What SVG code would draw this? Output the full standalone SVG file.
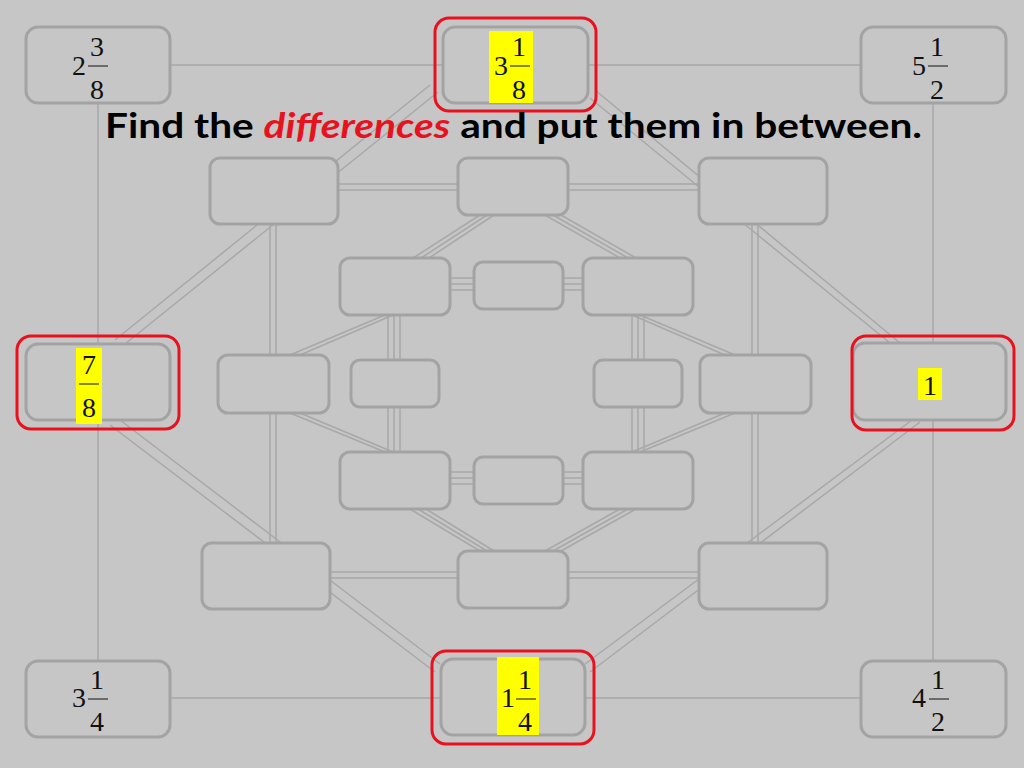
<svg xmlns="http://www.w3.org/2000/svg" width="1024" height="768" viewBox="0 0 1024 768">
<style>
.b{fill:#c6c6c6;stroke:#a3a3a3;stroke-width:3}
.l{fill:none;stroke:#a8a8a8;stroke-width:1.5}
.r{fill:none;stroke:#e8121e;stroke-width:3}
.f{font-family:"Liberation Serif",serif;font-size:28px;fill:#111}
.hl{fill:#ffff00}
</style>
<rect width="1024" height="768" fill="#c6c6c6"/>
<g id="connectors">
<path class="l" d="M170 65H443M588 65H861M98 103V344M98 420V661M933 103V343M933 420V661M170 698H441M585 698H861"/>
<path class="l" d="M430 85L115 340M438 92L125 344M110 425L435 672M120 420L440 664M590 672L920 422M585 664L912 420M595 90L900 343M590 98L890 343"/>
<path class="l" d="M338 184H458M338 190H458M568 184H699M568 190H699M270 224V355M276 224V355M752 224V355M758 224V355M270 413V543M276 413V543M752 413V543M758 413V543M330 572H458M330 578H458M568 572H699M568 578H699"/>
<path class="l" d="M410 260L480 215M418 260L487 215M426 260L494 215M620 258L545 215M628 258L553 215M636 258L561 215M620 509L545 551M628 509L553 551M636 509L561 551M410 509L480 551M418 509L487 551M426 509L494 551"/>
<path class="l" d="M385 315L290 355M393 315L300 355M640 315L735 355M632 315L725 355M385 452L290 413M393 452L300 413M640 452L735 413M632 452L725 413"/>
<path class="l" d="M450 278H474M450 284H474M450 290H474M563 278H583M563 284H583M563 290H583M450 472H474M450 478H474M450 484H474M563 472H583M563 478H583M563 484H583M388 315V360M394 315V360M400 315V360M632 315V360M638 315V360M644 315V360M388 407V452M394 407V452M400 407V452M632 407V452M638 407V452M644 407V452"/>
</g>
<g id="n-tl"><rect class="b" x="26" y="27" width="144" height="76" rx="12"/><text class="f" x="72" y="75">2</text><text class="f" x="90" y="56">3</text><line x1="88" y1="66" x2="108" y2="66" stroke="#111"/><text class="f" x="90" y="99">8</text></g>
<g id="n-tc"><rect class="b" x="443" y="27" width="145" height="76" rx="12"/><rect class="r" x="435" y="18" width="161" height="93" rx="14"/><rect class="hl" x="489" y="31" width="44" height="72"/><text class="f" x="494" y="75">3</text><text class="f" x="512" y="56">1</text><line x1="510" y1="66" x2="530" y2="66" stroke="#111"/><text class="f" x="512" y="99">8</text></g>
<g id="n-tr"><rect class="b" x="861" y="27" width="145" height="76" rx="12"/><text class="f" x="912" y="75">5</text><text class="f" x="930" y="56">1</text><line x1="928" y1="66" x2="948" y2="66" stroke="#111"/><text class="f" x="930" y="99">2</text></g>
<g id="n-ml"><rect class="b" x="26" y="344" width="144" height="76" rx="12"/><rect class="r" x="17" y="336" width="162" height="93" rx="14"/><rect class="hl" x="76" y="348" width="26" height="76"/><text class="f" x="82" y="374">7</text><line x1="79" y1="384" x2="99" y2="384" stroke="#111"/><text class="f" x="82" y="417">8</text></g>
<g id="n-mr"><rect class="b" x="853" y="343" width="153" height="77" rx="12"/><rect class="r" x="852" y="336" width="162" height="94" rx="14"/><rect class="hl" x="918" y="368" width="24" height="32"/><text class="f" x="923" y="395">1</text></g>
<g id="n-bl"><rect class="b" x="26" y="661" width="144" height="76" rx="12"/><text class="f" x="72" y="707">3</text><text class="f" x="90" y="689">1</text><line x1="88" y1="699" x2="108" y2="699" stroke="#111"/><text class="f" x="90" y="731">4</text></g>
<g id="n-bc"><rect class="b" x="441" y="659" width="144" height="76" rx="12"/><rect class="r" x="432" y="651" width="162" height="93" rx="14"/><rect class="hl" x="497" y="657" width="42" height="78"/><text class="f" x="501" y="707">1</text><text class="f" x="518" y="689">1</text><line x1="516" y1="699" x2="536" y2="699" stroke="#111"/><text class="f" x="518" y="731">4</text></g>
<g id="n-br"><rect class="b" x="861" y="661" width="145" height="76" rx="12"/><text class="f" x="912" y="707">4</text><text class="f" x="931" y="689">1</text><line x1="929" y1="699" x2="949" y2="699" stroke="#111"/><text class="f" x="931" y="731">2</text></g>
<g id="ring2">
<rect class="b" x="210" y="158" width="128" height="66" rx="10"/>
<rect class="b" x="458" y="158" width="110" height="57" rx="10"/>
<rect class="b" x="699" y="158" width="128" height="66" rx="10"/>
<rect class="b" x="218" y="355" width="111" height="58" rx="10"/>
<rect class="b" x="700" y="355" width="111" height="58" rx="10"/>
<rect class="b" x="202" y="543" width="128" height="66" rx="10"/>
<rect class="b" x="458" y="551" width="110" height="57" rx="10"/>
<rect class="b" x="699" y="543" width="128" height="66" rx="10"/>
</g>
<g id="ring3">
<rect class="b" x="340" y="258" width="110" height="57" rx="10"/>
<rect class="b" x="474" y="262" width="89" height="47" rx="9"/>
<rect class="b" x="583" y="258" width="110" height="57" rx="10"/>
<rect class="b" x="351" y="360" width="88" height="47" rx="9"/>
<rect class="b" x="594" y="360" width="88" height="47" rx="9"/>
<rect class="b" x="340" y="452" width="110" height="57" rx="10"/>
<rect class="b" x="474" y="457" width="89" height="47" rx="9"/>
<rect class="b" x="583" y="452" width="110" height="57" rx="10"/>
</g>
<text x="105" y="138" font-family="Lato,'Liberation Sans',sans-serif" font-weight="bold" font-size="34" fill="#000" textLength="817" lengthAdjust="spacingAndGlyphs">Find the <tspan fill="#e8121e" font-style="italic">differences</tspan> and put them in between.</text>
</svg>
